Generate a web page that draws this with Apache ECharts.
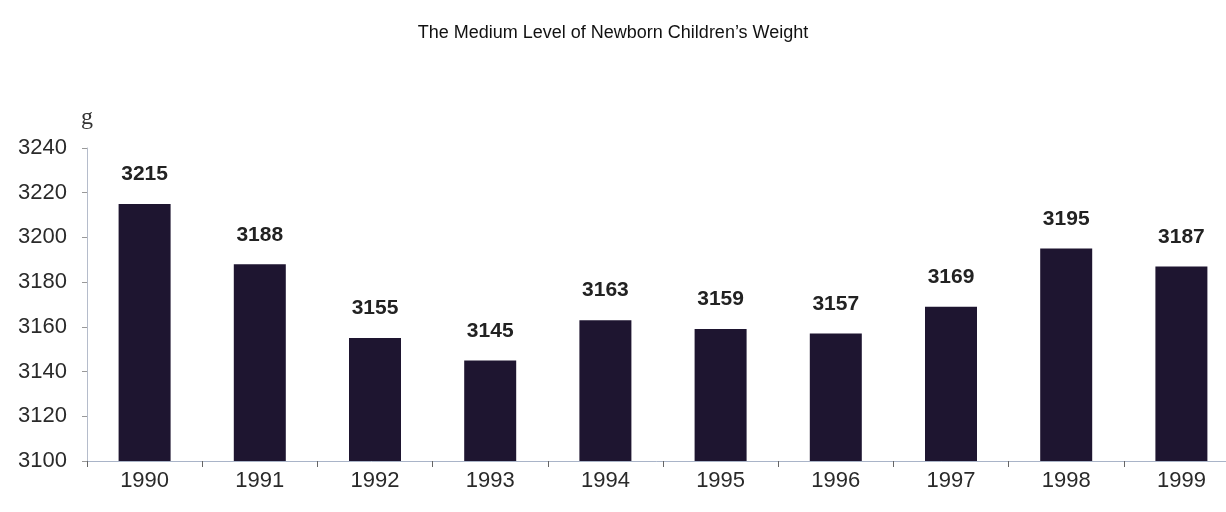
<!DOCTYPE html>
<html><head><meta charset="utf-8">
<script src="https://cdn.jsdelivr.net/npm/echarts@6/dist/echarts.min.js"></script>
<style>html,body{margin:0;padding:0;background:#fff}#c{width:1226px;height:512px}</style>
</head><body><div id="c"></div>
<script>
const title = "The Medium Level of Newborn Children\u2019s Weight";
const years = ["1990","1991","1992","1993","1994","1995","1996","1997","1998","1999"];
const weights = [3215,3188,3155,3145,3163,3159,3157,3169,3195,3187];
const yMin = 3100, yMax = 3240, yStep = 20;
const unit = "g";

const chart = echarts.init(document.getElementById('c'), null, {renderer:'canvas'});
chart.setOption({
  animation:false,
  backgroundColor:'#ffffff',
  title:{text:title,left:'center',top:19,textStyle:{fontFamily:'Liberation Sans, Arial',fontSize:18,fontWeight:'normal',color:'#111'}},
  grid:{left:87,top:148,width:1152,height:313,containLabel:false,outerBoundsMode:'none'},
  xAxis:{type:'category',data:years,boundaryGap:true,
    axisLine:{lineStyle:{color:'#a9b4c8',width:1}},
    axisTick:{show:true,alignWithLabel:false,length:6,lineStyle:{color:'#666'}},
    axisLabel:{margin:9,fontFamily:'Liberation Sans, Arial',fontSize:22,color:'#2a2a2a'}},
  yAxis:{type:'value',min:yMin,max:yMax,interval:yStep,name:unit,
    nameLocation:'end',nameGap:18,
    nameTextStyle:{fontFamily:'Liberation Serif, Times New Roman',fontSize:24,color:'#333',align:'center'},
    axisLine:{show:true,lineStyle:{color:'#b5bccb'}},
    axisTick:{show:true,length:5,inside:false,lineStyle:{color:'#999'}},
    splitLine:{show:false},
    axisLabel:{margin:20,formatter:v=>String(v),fontFamily:'Liberation Sans, Arial',fontSize:22,color:'#2a2a2a'}},
  series:[{type:'bar',data:weights,barWidth:52,
    itemStyle:{color:'#1e1530'},
    label:{show:true,position:'top',distance:19,fontFamily:'Liberation Sans, Arial',fontSize:21,fontWeight:'bold',color:'#222'}}]
});
</script></body></html>
